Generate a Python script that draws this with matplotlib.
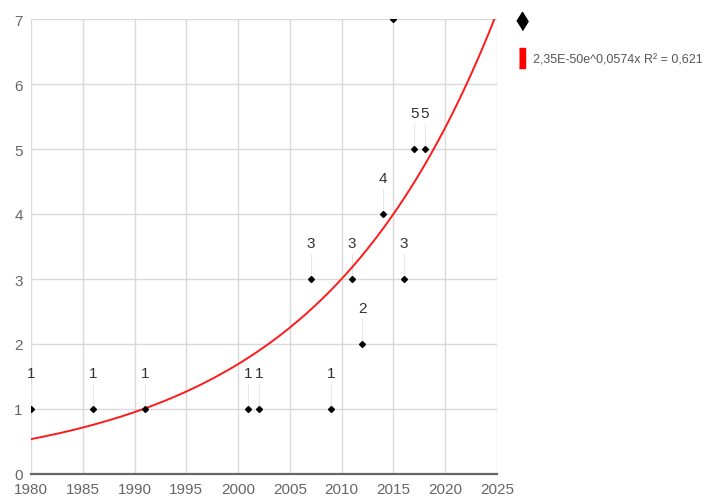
import matplotlib
matplotlib.use("Agg")
import matplotlib.pyplot as plt
import numpy as np
from matplotlib.lines import Line2D

# ---- data ----
years = [1980, 1986, 1991, 2001, 2002, 2007, 2009, 2011, 2012, 2014, 2015, 2016, 2017, 2018]
counts = [1, 1, 1, 1, 1, 3, 1, 3, 2, 4, 7, 3, 5, 5]
x_ticks = list(range(1980, 2030, 5))
y_ticks = list(range(0, 8))
trend_a = 2.35e-50
trend_b = 0.0574
trend_label = "2,35E-50e^0,0574x R² = 0,621"

font = ["Liberation Sans", "DejaVu Sans"]
grid_color = "#d9d9d9"
tick_color = "#666666"

fig = plt.figure(figsize=(7.13, 5.02), dpi=100)
fig.patch.set_facecolor("white")
ax = fig.add_axes([31 / 713, 27 / 502, 466 / 713, 455 / 502])

ax.set_xlim(1980, 2025)
ax.set_ylim(0, 7)
ax.set_xticks(x_ticks)
ax.set_yticks(y_ticks)
ax.grid(True, color=grid_color, linewidth=1.0, zorder=0)
ax.set_axisbelow(True)
for side in ("left", "top", "right"):
    ax.spines[side].set_visible(False)
ax.spines["bottom"].set_color("#666666")
ax.spines["bottom"].set_linewidth(1.6)
ax.tick_params(length=0, pad=6, colors=tick_color)
for lbl in ax.get_xticklabels() + ax.get_yticklabels():
    lbl.set_family(font)
    lbl.set_fontsize(11)
    lbl.set_color(tick_color)

# exponential trend line
xs = np.linspace(1980, 2025, 300)
ax.plot(xs, trend_a * np.exp(trend_b * xs), color="#ff1a1a", linewidth=1.4, zorder=3)

# points, leader lines and value labels (labels that would sit above the top are dropped)
label_off = 0.55
for x, y in zip(years, counts):
    if y + label_off > ax.get_ylim()[1]:
        continue
    ax.plot([x, x], [y, y + label_off - 0.17], color="#e6e6e6", linewidth=0.8, zorder=2)
    ax.text(x, y + label_off, str(y), ha="center", va="center", family=font,
            fontsize=11, color="#333333", zorder=4, clip_on=False)
ax.plot(years, counts, linestyle="none", marker="D", markersize=3.0,
        color="black", zorder=5, clip_on=True)

# legend
handles = [
    Line2D([], [], linestyle="none", color="black",
           marker=[(0, -1), (0.62, 0), (0, 1), (-0.62, 0)], markersize=13),
    Line2D([], [], linestyle="none", color="red",
           marker=[(-0.28, -1), (0.28, -1), (0.28, 1), (-0.28, 1)], markersize=15),
]
leg = fig.legend(handles, ["", trend_label], loc="upper left",
                 bbox_to_anchor=(506 / 713, 1 - 6 / 502), frameon=False,
                 handlelength=0.8, handletextpad=0.45, labelspacing=2.0,
                 prop={"family": font, "size": 9})
for t in leg.get_texts():
    t.set_color("#555555")

fig.savefig("out.png", dpi=100, facecolor="white")
